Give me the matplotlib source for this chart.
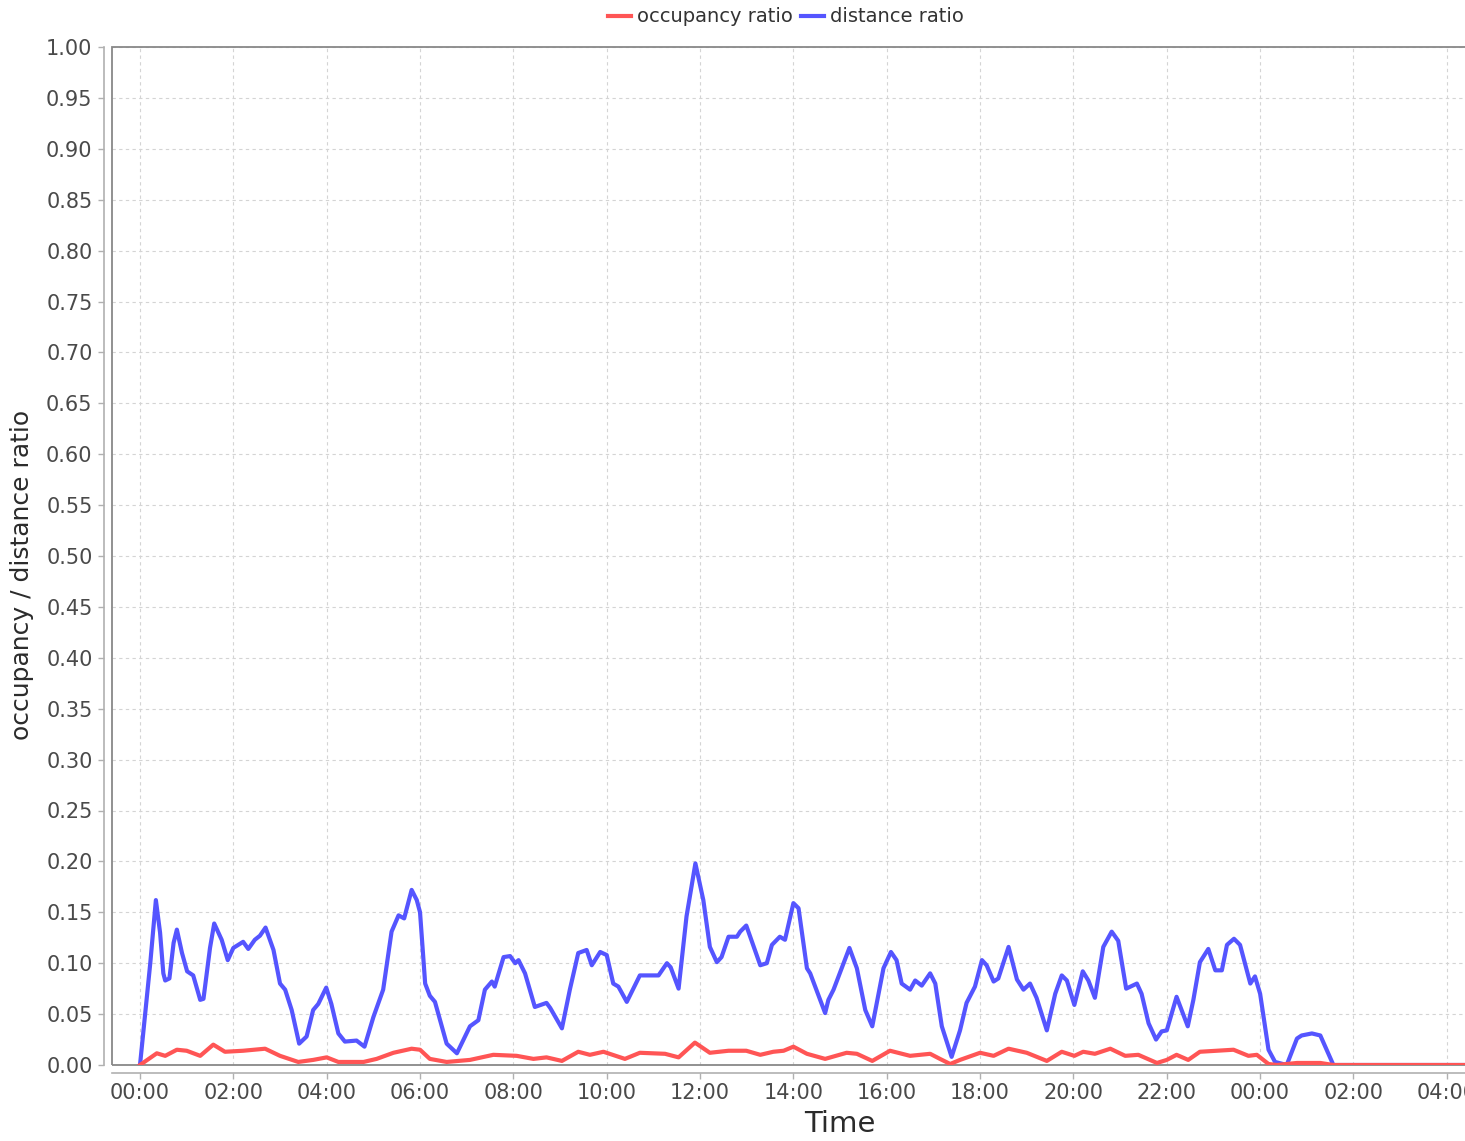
import matplotlib
matplotlib.use("Agg")
import matplotlib.pyplot as plt
from matplotlib.patches import Rectangle

# ---- data (hours since first 00:00, ratio values) ----
dist_hours = [0.0, 0.22, 0.34, 0.43, 0.5, 0.54, 0.63, 0.72, 0.79, 0.9, 1.01, 1.14, 1.29, 1.36,
              1.5, 1.59, 1.75, 1.88, 2.0, 2.21, 2.32, 2.46, 2.57, 2.69, 2.86, 3.0, 3.11, 3.25,
              3.41, 3.57, 3.71, 3.82, 3.99, 4.1, 4.25, 4.39, 4.64, 4.81, 5.0, 5.21, 5.39, 5.54,
              5.66, 5.82, 5.93, 6.0, 6.11, 6.21, 6.32, 6.57, 6.79, 7.07, 7.25, 7.39, 7.54, 7.6,
              7.79, 7.93, 8.04, 8.11, 8.25, 8.46, 8.71, 8.79, 9.04, 9.21, 9.39, 9.57, 9.68, 9.86,
              10.0, 10.14, 10.25, 10.43, 10.71, 10.93, 11.11, 11.29, 11.37, 11.54, 11.71, 11.9,
              12.07, 12.21, 12.36, 12.46, 12.61, 12.79, 12.86, 12.99, 13.29, 13.43, 13.54, 13.71,
              13.82, 14.0, 14.11, 14.29, 14.36, 14.68, 14.75, 14.86, 15.2, 15.36, 15.54, 15.69,
              15.93, 16.09, 16.21, 16.32, 16.5, 16.61, 16.75, 16.93, 17.04, 17.18, 17.39, 17.57,
              17.71, 17.89, 18.04, 18.14, 18.29, 18.39, 18.61, 18.79, 18.93, 19.07, 19.21, 19.43,
              19.61, 19.75, 19.86, 20.02, 20.2, 20.32, 20.46, 20.64, 20.82, 20.96, 21.13, 21.36,
              21.46, 21.61, 21.77, 21.89, 22.0, 22.21, 22.45, 22.57, 22.71, 22.89, 23.04, 23.18,
              23.29, 23.44, 23.57, 23.79, 23.89, 24.0, 24.18, 24.32, 24.57, 24.79, 24.89, 25.11,
              25.29, 25.57, 29.0]
dist_values = [0.0, 0.10, 0.162, 0.13, 0.09, 0.083, 0.085, 0.12, 0.133, 0.11, 0.092, 0.088, 0.064, 0.065,
               0.115, 0.139, 0.123, 0.103, 0.115, 0.121, 0.114, 0.123, 0.127, 0.135, 0.113, 0.080, 0.074, 0.054,
               0.021, 0.028, 0.054, 0.060, 0.076, 0.06, 0.031, 0.023, 0.024, 0.018, 0.047, 0.074, 0.131, 0.147,
               0.144, 0.172, 0.162, 0.150, 0.080, 0.068, 0.062, 0.021, 0.0115, 0.038, 0.044, 0.074, 0.082, 0.077,
               0.106, 0.107, 0.100, 0.103, 0.090, 0.057, 0.061, 0.056, 0.036, 0.074, 0.110, 0.113, 0.098, 0.111,
               0.108, 0.080, 0.077, 0.062, 0.088, 0.088, 0.088, 0.100, 0.096, 0.075, 0.146, 0.198,
               0.162, 0.116, 0.101, 0.106, 0.126, 0.126, 0.131, 0.137, 0.098, 0.100, 0.118, 0.126,
               0.123, 0.159, 0.154, 0.095, 0.090, 0.051, 0.064, 0.074, 0.115, 0.095, 0.054, 0.038,
               0.095, 0.111, 0.103, 0.080, 0.074, 0.083, 0.078, 0.090, 0.080, 0.038, 0.008, 0.034,
               0.061, 0.077, 0.103, 0.098, 0.082, 0.085, 0.116, 0.084, 0.074, 0.080, 0.066, 0.034,
               0.070, 0.088, 0.083, 0.059, 0.092, 0.083, 0.066, 0.116, 0.131, 0.122, 0.075, 0.080,
               0.070, 0.041, 0.025, 0.033, 0.034, 0.067, 0.038, 0.064, 0.101, 0.114, 0.093, 0.093,
               0.118, 0.124, 0.118, 0.080, 0.087, 0.070, 0.015, 0.003, 0.0, 0.026, 0.029, 0.031,
               0.029, 0.0, 0.0]

occ_hours = [0.0, 0.36, 0.54, 0.79, 1.0, 1.29, 1.57, 1.82, 2.21, 2.68, 3.0, 3.39, 3.71, 4.0, 4.25,
             4.79, 5.07, 5.43, 5.82, 6.0, 6.21, 6.57, 7.07, 7.57, 8.07, 8.43, 8.71, 9.04, 9.39,
             9.64, 9.93, 10.39, 10.71, 11.25, 11.54, 11.89, 12.21, 12.61, 12.99, 13.29, 13.57,
             13.79, 14.0, 14.29, 14.68, 15.14, 15.36, 15.69, 16.07, 16.5, 16.93, 17.14, 17.36,
             17.57, 18.0, 18.29, 18.61, 19.0, 19.43, 19.75, 20.02, 20.21, 20.46, 20.79, 21.11,
             21.39, 21.79, 22.0, 22.21, 22.46, 22.71, 23.07, 23.43, 23.75, 23.93, 24.18, 24.36,
             24.79, 25.29, 25.57, 29.0]
occ_values = [0.0, 0.0115, 0.009, 0.015, 0.014, 0.009, 0.020, 0.013, 0.014, 0.016, 0.009, 0.003, 0.005, 0.0075, 0.003,
              0.003, 0.006, 0.012, 0.016, 0.015, 0.006, 0.003, 0.005, 0.010, 0.009, 0.006, 0.0075, 0.004, 0.013,
              0.010, 0.013, 0.006, 0.012, 0.011, 0.0075, 0.022, 0.012, 0.014, 0.014, 0.010, 0.013,
              0.014, 0.018, 0.011, 0.006, 0.012, 0.011, 0.004, 0.014, 0.009, 0.011, 0.006, 0.001,
              0.005, 0.012, 0.009, 0.016, 0.012, 0.004, 0.013, 0.009, 0.013, 0.011, 0.016, 0.009,
              0.010, 0.002, 0.005, 0.010, 0.005, 0.013, 0.014, 0.015, 0.009, 0.010, 0.001, 0.0,
              0.002, 0.002, 0.0, 0.0]

x_tick_hours = [0, 2, 4, 6, 8, 10, 12, 14, 16, 18, 20, 22, 24, 26, 28]
x_tick_labels = ["00:00", "02:00", "04:00", "06:00", "08:00", "10:00", "12:00", "14:00",
                 "16:00", "18:00", "20:00", "22:00", "00:00", "02:00", "04:00"]
y_ticks = [round(i * 0.05, 2) for i in range(21)]

# ---- figure ----
plt.rcParams['font.family'] = ['DejaVu Sans']
W, H = 1465, 1141
fig = plt.figure(figsize=(W / 100, H / 100), dpi=100)
ax = fig.add_axes([112 / W, 1 - 1065 / H, (W - 112) / W, 1018 / H])

red = '#FF5555'
blue = '#5555FF'
ax.plot(occ_hours, occ_values, color=red, lw=3, label='occupancy ratio', zorder=4,
        solid_joinstyle='round')
ax.plot(dist_hours, dist_values, color=blue, lw=3, label='distance ratio', zorder=3,
        solid_joinstyle='round')

ax.set_xlim(-0.6, 28.39)
ax.set_ylim(0, 1.0)
ax.set_xticks(x_tick_hours)
ax.set_xticklabels(x_tick_labels)
ax.set_yticks(y_ticks)
ax.set_yticklabels([f"{v:.2f}" for v in y_ticks])

ax.grid(True, color='#d4d4d4', linestyle=(0, (3, 3)), linewidth=0.8)
ax.set_axisbelow(True)

for s in ['top', 'right']:
    ax.spines[s].set_visible(False)
for s in ['left', 'bottom']:
    ax.spines[s].set_position(('outward', 6))
    ax.spines[s].set_color('#b0b0b0')
    ax.spines[s].set_linewidth(1.2)

ax.tick_params(axis='both', colors='#b0b0b0', length=4, width=1, labelcolor='#4a4a4a',
               labelsize=15)
ax.tick_params(axis='y', pad=4)
ax.tick_params(axis='x', pad=3)

# plot outline
ax.add_patch(Rectangle((0, 0), 1.05, 1, transform=ax.transAxes, fill=False,
                       edgecolor='#888888', lw=1.3, clip_on=False, zorder=2))

ax.set_xlabel('Time', fontsize=21, color='#2b2b2b')
ax.xaxis.set_label_coords((840 - 112) / (W - 112), -(1124 - 1065) / 1018)
ax.set_ylabel('occupancy / distance ratio', fontsize=18, color='#2b2b2b')
ax.yaxis.set_label_coords((22 - 112) / (W - 112), (1065 - 575) / 1018)
ax.xaxis.label.set_verticalalignment('center')
ax.yaxis.label.set_verticalalignment('center')

fig.legend(loc='center', bbox_to_anchor=(786 / W, 1 - 17 / H), ncol=2, frameon=False,
           fontsize=14, handlelength=1.2, handletextpad=0.3, columnspacing=0.4,
           labelcolor='#333333')

fig.savefig('out.png', dpi=100)
